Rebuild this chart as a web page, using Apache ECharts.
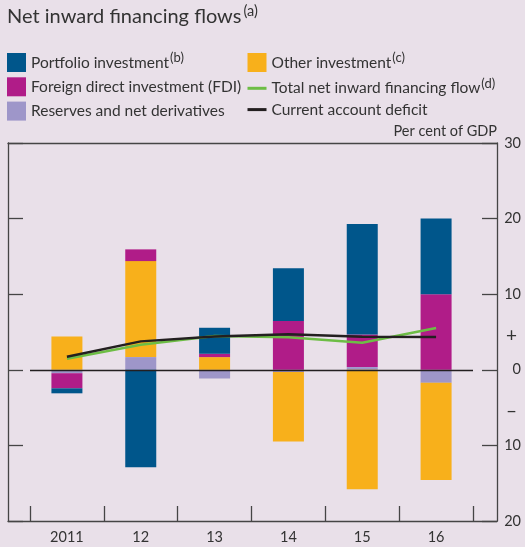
<!DOCTYPE html>
<html>
<head>
<meta charset="utf-8">
<script src="https://cdn.jsdelivr.net/npm/echarts@6/dist/echarts.min.js"></script>
<style>
  html, body { margin: 0; padding: 0; background: #e9e0e9; }
  #chart { width: 525px; height: 547px; }
</style>
</head>
<body>
<div id="chart"></div>
<script>
// values in per cent of GDP
const years = ["2011", "12", "13", "14", "15", "16"]
const portfolio = [-0.66, -12.9, 3.44, 6.98, 14.6, 10.0]
const fdi = [-2.0, 1.55, 0.44, 6.45, 4.32, 10.0]
const reserves = [-0.45, 1.68, -1.15, -0.3, 0.36, -1.72]
const other = [4.42, 12.7, 1.68, -9.18, -15.8, -12.85]
const totalFlow = [1.46, 3.3, 4.46, 4.29, 3.58, 5.52]
const caDeficit = [1.72, 3.76, 4.42, 4.69, 4.37, 4.33]
const tickValues = [-20, -10, 0, 10, 20, 30]
const labelValues = [-20, -10, -5, 0, 5, 10, 20, 30]

const font = "Lato"
const dark = "#231f20"
const frame = "#454545"
const colors = {
    portfolio: "#00568b",
    fdi: "#b01c88",
    reserves: "#9e96c9",
    other: "#f8b01b",
    total: "#6dbd45",
    deficit: dark,
}
const names = {
    portfolio: "Portfolio investment",
    fdi: "Foreign direct investment (FDI)",
    reserves: "Reserves and net derivatives",
    other: "Other investment",
    total: "Total net inward financing flow",
    deficit: "Current account deficit",
}
const sup = { portfolio: "(b)", other: "(c)", total: "(d)" }

const legendText = {
    fontFamily: font,
    fontSize: 15.5,
    color: "#333",
    rich: {
        sup: { fontFamily: font, fontSize: 13, color: "#333", padding: [0, 0, 9, 1] },
    },
}
function legendFormatter(name) {
    for (const k in names) {
        if (names[k] == name && sup[k]) return name + "{sup|" + sup[k] + "}"
    }
    return name
}

function barSeries(key, data) {
    return {
        name: names[key],
        type: "bar",
        xAxisIndex: 1,
        yAxisIndex: 2,
        stack: "flows",
        barWidth: 31,
        data: data,
        itemStyle: { color: colors[key] },
    }
}

const lineItem = name => ({ name, itemStyle: { opacity: 0 }, lineStyle: { width: 3 } })

const frameLine = { show: true, onZero: false, lineStyle: { color: frame, width: 1.3 } }
const frameTick = { show: true, inside: true, length: 15, customValues: tickValues, lineStyle: { color: frame, width: 1.3 } }

const chart = echarts.init(document.getElementById("chart"), null, { renderer: "canvas" })
chart.setOption({
    backgroundColor: "#e9e0e9",
    animation: false,
    title: {
        left: 7,
        top: 4,
        padding: 0,
        text: "Net inward financing flows{sup|(a)}",
        textStyle: {
            fontFamily: font,
            fontSize: 20,
            fontWeight: "normal",
            color: "#333",
            rich: {
                sup: { fontFamily: font, fontSize: 14.5, color: "#333", padding: [0, 0, 10, 2] },
            },
        },
    },
    legend: [
        {
            orient: "vertical",
            left: 7,
            top: 51.5,
            padding: 0,
            itemWidth: 19,
            itemHeight: 19,
            itemGap: 5.3,
            textStyle: legendText,
            formatter: legendFormatter,
            data: [
                { name: names.portfolio, icon: "rect" },
                { name: names.fdi, icon: "rect" },
                { name: names.reserves, icon: "rect" },
            ],
        },
        {
            orient: "vertical",
            left: 246,
            top: 51.5,
            padding: 0,
            itemWidth: 19,
            itemHeight: 19,
            itemGap: 5.3,
            textStyle: legendText,
            formatter: legendFormatter,
            data: [
                { name: names.other, icon: "rect" },
                lineItem(names.total),
                lineItem(names.deficit),
            ],
        },
    ],
    graphic: [
        {
            type: "text",
            right: 28,
            top: 124,
            style: { text: "Per cent of GDP", fontFamily: font, fontSize: 14.5, fill: "#333" },
        },
    ],
    grid: [
        // frame
        { left: 8, right: 28, top: 143, bottom: 26 },
        // categories
        { left: 30, right: 52, top: 143, bottom: 26 },
    ],
    xAxis: [
        {
            gridIndex: 0,
            type: "value",
            min: 0,
            max: 1,
            position: "top",
            axisLine: frameLine,
            axisTick: { show: false },
            axisLabel: { show: false },
            splitLine: { show: false },
        },
        {
            gridIndex: 1,
            type: "category",
            data: years,
            position: "bottom",
            boundaryGap: true,
            axisLine: { show: false, onZero: false },
            axisTick: { show: true, inside: true, length: 15, lineStyle: { color: frame, width: 1.3 } },
            axisLabel: { margin: 9, fontFamily: font, fontSize: 14.5, color: "#333" },
        },
        {
            gridIndex: 0,
            type: "value",
            min: 0,
            max: 1,
            position: "bottom",
            axisLine: frameLine,
            axisTick: { show: false },
            axisLabel: { show: false },
            splitLine: { show: false },
        },
    ],
    yAxis: [
        {
            gridIndex: 0,
            position: "right",
            min: -20,
            max: 30,
            interval: 10,
            axisLine: frameLine,
            splitLine: { show: false },
            axisTick: frameTick,
            axisLabel: {
                margin: 24,
                align: "right",
                fontFamily: font,
                fontSize: 14.5,
                color: "#333",
                customValues: labelValues,
                formatter: v => (v == 5 ? "{pm|+}" : v == -5 ? "{pm|\u2013}" : String(Math.abs(v))),
                rich: {
                    pm: { fontFamily: font, fontSize: 19, color: "#333", padding: [7, 4, 0, 0] },
                },
            },
        },
        {
            gridIndex: 0,
            position: "left",
            min: -20,
            max: 30,
            interval: 10,
            axisLine: frameLine,
            splitLine: { show: false },
            axisLabel: { show: false },
            axisTick: frameTick,
        },
        { gridIndex: 1, min: -20, max: 30, interval: 10, show: false },
    ],
    series: [
        barSeries("reserves", reserves),
        barSeries("other", other),
        barSeries("fdi", fdi),
        barSeries("portfolio", portfolio),
        {
            name: "zero",
            type: "line",
            xAxisIndex: 1,
            yAxisIndex: 2,
            data: [],
            silent: true,
            markLine: {
                silent: true,
                symbol: "none",
                label: { show: false },
                lineStyle: { color: dark, width: 1.4, type: "solid" },
                data: [{ yAxis: 0 }],
            },
        },
        {
            name: names.total,
            type: "line",
            xAxisIndex: 1,
            yAxisIndex: 2,
            data: totalFlow,
            symbol: "none",
            color: colors.total,
            lineStyle: { color: colors.total, width: 2.5 },
            z: 5,
        },
        {
            name: names.deficit,
            type: "line",
            xAxisIndex: 1,
            yAxisIndex: 2,
            data: caDeficit,
            symbol: "none",
            color: colors.deficit,
            lineStyle: { color: colors.deficit, width: 2.5 },
            z: 6,
        },
    ],
})
</script>
</body>
</html>
